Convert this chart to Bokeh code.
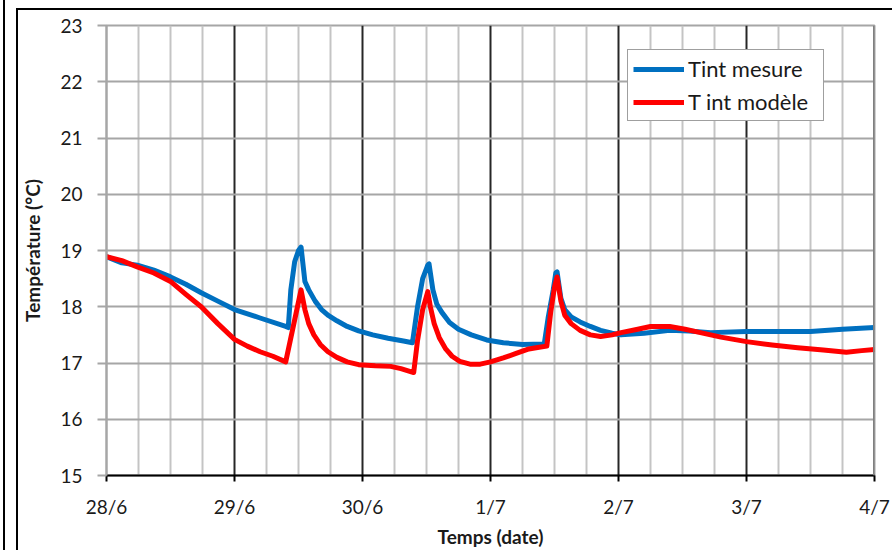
from bokeh.plotting import figure
from bokeh.models import FixedTicker, Span, Legend, LegendItem
from bokeh.embed import file_html
from bokeh.resources import INLINE

# ---- data ----
day_ticks = [0, 1, 2, 3, 4, 5, 6]
day_labels = ["28/6", "29/6", "30/6", "1/7", "2/7", "3/7", "4/7"]
temp_ticks = [15, 16, 17, 18, 19, 20, 21, 22, 23]

mesure_t = [0, 0.12, 0.24, 0.37, 0.5, 0.62, 0.74, 0.87, 1.0, 1.2, 1.4, 1.42, 1.44, 1.47, 1.5,
            1.52, 1.55, 1.58, 1.63, 1.68, 1.73, 1.8, 1.88, 1.97, 2.08, 2.2, 2.32, 2.39,
            2.43, 2.47, 2.51, 2.52, 2.55, 2.58, 2.62, 2.68, 2.75, 2.85, 2.97, 3.1, 3.25,
            3.42, 3.45, 3.49, 3.51, 3.52, 3.55, 3.58, 3.63, 3.7, 3.78, 3.86, 3.95, 4.02,
            4.2, 4.4, 4.55, 4.72, 5.0, 5.5, 5.75, 6.0]
mesure_v = [18.89, 18.78, 18.74, 18.65, 18.53, 18.4, 18.25, 18.1, 17.95, 17.8, 17.65, 17.63,
            18.3, 18.8, 19.0, 19.06, 18.45, 18.3, 18.1, 17.95, 17.85, 17.75, 17.65, 17.57,
            17.5, 17.44, 17.39, 17.36, 18.0, 18.5, 18.74, 18.76, 18.3, 18.05, 17.9, 17.72,
            17.6, 17.5, 17.41, 17.36, 17.33, 17.34, 17.8, 18.3, 18.6, 18.62, 18.15, 17.95,
            17.82, 17.73, 17.65, 17.58, 17.53, 17.5, 17.53, 17.58, 17.57, 17.54, 17.56,
            17.56, 17.6, 17.63]

modele_t = [0, 0.12, 0.24, 0.37, 0.5, 0.62, 0.74, 0.87, 1.0, 1.1, 1.2, 1.3, 1.4, 1.52,
            1.55, 1.58, 1.62, 1.67, 1.73, 1.8, 1.88, 1.97, 2.1, 2.22, 2.3, 2.4, 2.43, 2.47,
            2.51, 2.53, 2.56, 2.6, 2.65, 2.7, 2.76, 2.84, 2.92, 3.0, 3.1, 3.2, 3.3, 3.38,
            3.44, 3.47, 3.5, 3.52, 3.55, 3.58, 3.63, 3.7, 3.78, 3.86, 3.95, 4.02, 4.15,
            4.25, 4.4, 4.52, 4.64, 4.8, 5.0, 5.2, 5.4, 5.6, 5.78, 5.9, 6.0]
modele_v = [18.89, 18.82, 18.71, 18.6, 18.45, 18.22, 18.0, 17.7, 17.42, 17.3, 17.2, 17.12,
            17.02, 18.3, 17.95, 17.7, 17.5, 17.33, 17.2, 17.1, 17.02, 16.97, 16.95, 16.94,
            16.9, 16.83, 17.4, 17.95, 18.27, 18.0, 17.7, 17.45, 17.25, 17.12, 17.03, 16.98,
            16.98, 17.02, 17.09, 17.17, 17.25, 17.28, 17.3, 17.9, 18.35, 18.53, 18.1, 17.85,
            17.7, 17.58, 17.5, 17.47, 17.5, 17.54, 17.6, 17.65, 17.65, 17.6, 17.54, 17.46,
            17.38, 17.32, 17.27, 17.23, 17.19, 17.22, 17.24]

minor_days = [d / 4 for d in range(0, 25) if d % 4 != 0]

FONT = "Lato"

p = figure(width=892, height=550, x_range=(0, 6), y_range=(15, 23),
           output_backend="svg", toolbar_location=None,
           min_border_left=106, min_border_right=18, min_border_top=25, min_border_bottom=74)

p.background_fill_color = "white"
p.border_fill_color = "white"
p.border_fill_alpha = 0
p.outline_line_color = "#A6A6A6"
p.outline_line_width = 2
p.styles = {
    "background-color": "white",
    "background-image": "linear-gradient(#000,#000), linear-gradient(#000,#000), linear-gradient(#000,#000)",
    "background-size": "2px 100%, 2px 100%, 100% 2px",
    "background-position": "3px 0px, 16px 8px, 16px 8px",
    "background-repeat": "no-repeat",
}

# grids
p.xgrid.ticker = FixedTicker(ticks=[1, 2, 3, 4, 5], minor_ticks=minor_days)
p.xgrid.grid_line_color = "#262626"
p.xgrid.grid_line_width = 2
p.xgrid.minor_grid_line_color = "#C4C4C4"
p.xgrid.minor_grid_line_width = 2
p.ygrid.ticker = FixedTicker(ticks=temp_ticks[1:-1])
p.ygrid.grid_line_color = "#A6A6A6"
p.ygrid.grid_line_width = 2

# axes
p.xaxis.ticker = FixedTicker(ticks=day_ticks)
p.xaxis.major_label_overrides = {d: lab for d, lab in zip(day_ticks, day_labels)}
p.xaxis.axis_line_color = "black"
p.xaxis.axis_line_width = 2
p.xaxis.major_tick_line_color = "black"
p.xaxis.major_tick_line_width = 2
p.xaxis.major_tick_out = 6
p.xaxis.major_tick_in = 0
p.xaxis.minor_tick_line_color = None
p.xaxis.major_label_standoff = 13
p.xaxis.axis_label = "Temps (date)"
p.xaxis.axis_label_standoff = 4

p.yaxis.ticker = FixedTicker(ticks=temp_ticks)
p.yaxis.axis_line_color = "#A6A6A6"
p.yaxis.axis_line_width = 2
p.yaxis.major_tick_line_color = "#A6A6A6"
p.yaxis.major_tick_line_width = 2
p.yaxis.major_tick_out = 9
p.yaxis.major_tick_in = 0
p.yaxis.minor_tick_line_color = None
p.yaxis.major_label_standoff = 15
p.yaxis.axis_label = "Température (°C)"
p.yaxis.axis_label_standoff = 13

for ax in (p.xaxis[0], p.yaxis[0]):
    ax.major_label_text_font = FONT
    ax.major_label_text_font_size = "19px"
    ax.major_label_text_color = "#1a1a1a"
    ax.axis_label_text_font = FONT
    ax.axis_label_text_font_size = "19px"
    ax.axis_label_text_font_style = "bold"
    ax.axis_label_text_color = "#1a1a1a"

# right border of plot area
p.add_layout(Span(location=6, dimension="height", line_color="#808080", line_width=3))

# data lines
rb = p.line(mesure_t, mesure_v, line_color="#0070C0", line_width=5, line_join="round")
rr = p.line(modele_t, modele_v, line_color="#FF0000", line_width=5, line_join="round")

legend = Legend(items=[LegendItem(label="Tint mesure", renderers=[rb]),
                       LegendItem(label="T int modèle", renderers=[rr])],
                location=(521, 354))
legend.label_text_font = FONT
legend.label_text_font_size = "22px"
legend.label_text_color = "#1a1a1a"
legend.glyph_width = 51
legend.glyph_height = 20
legend.label_height = 20
legend.label_width = 130
legend.spacing = 6
legend.padding = 5
legend.margin = 0
legend.label_standoff = 4
legend.border_line_color = "#404040"
legend.border_line_width = 1
legend.background_fill_color = "white"
legend.background_fill_alpha = 1
p.add_layout(legend)

open("out.html", "w").write(file_html(p, INLINE))
